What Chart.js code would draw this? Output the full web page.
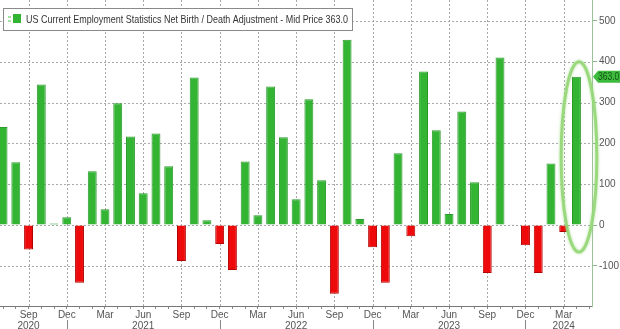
<!DOCTYPE html>
<html>
<head>
<meta charset="utf-8">
<script src="https://cdn.jsdelivr.net/npm/chart.js@4.4.1/dist/chart.umd.min.js"></script>
<style>
  html, body { margin: 0; padding: 0; background: #fff; }
  canvas { display: block; }
</style>
</head>
<body>
<canvas id="birthDeathChart" width="620" height="329"></canvas>
<script>
// monthly net birth/death adjustment, thousands
const months = [
    'Jul 2020', 'Aug 2020', 'Sep 2020', 'Oct 2020', 'Nov 2020', 'Dec 2020',
    'Jan 2021', 'Feb 2021', 'Mar 2021', 'Apr 2021', 'May 2021', 'Jun 2021',
    'Jul 2021', 'Aug 2021', 'Sep 2021', 'Oct 2021', 'Nov 2021', 'Dec 2021',
    'Jan 2022', 'Feb 2022', 'Mar 2022', 'Apr 2022', 'May 2022', 'Jun 2022',
    'Jul 2022', 'Aug 2022', 'Sep 2022', 'Oct 2022', 'Nov 2022', 'Dec 2022',
    'Jan 2023', 'Feb 2023', 'Mar 2023', 'Apr 2023', 'May 2023', 'Jun 2023',
    'Jul 2023', 'Aug 2023', 'Sep 2023', 'Oct 2023', 'Nov 2023', 'Dec 2023',
    'Jan 2024', 'Feb 2024', 'Mar 2024', 'Apr 2024'
];
const netBirthDeath = [
    240, 154, -60, 344, 4, 19,
    -141, 132, 39, 298, 217, 78,
    224, 144, -88, 361, 12, -46,
    -110, 156, 24, 339, 215, 63,
    308, 110, -168, 454, 15, -54,
    -141, 176, -27, 376, 232, 27,
    278, 105, -117, 410, 2, -49,
    -117, 151, -17, 363
];
const yTicks = [-100, 0, 100, 200, 300, 400, 500];
const quarterMonths = ['Mar', 'Jun', 'Sep', 'Dec'];
const yearLabels = { 'Sep 2020': '2020', 'Jun 2021': '2021', 'Jun 2022': '2022', 'Jun 2023': '2023', 'Mar 2024': '2024' };
const lastPrice = 363.0;
const legendText = 'US Current Employment Statistics Net Birth / Death Adjustment - Mid Price 363.0';

const GREEN = '#33b533';
const RED = '#ee0a0a';
const FONT = '"Liberation Sans", Arial, sans-serif';

function isQuarter(i) {
    const m = months[i];
    return !!m && quarterMonths.includes(m.split(' ')[0]);
}

// grid, legend box, last value tag, circled bar, year separators
const extras = {
    id: 'extras',
    afterDatasetsDraw(chart) {
        const { ctx, scales: { x, y }, chartArea } = chart;
        const last = netBirthDeath.length - 1;

        // dotted grid painted behind what is already drawn
        ctx.save();
        ctx.globalCompositeOperation = 'destination-over';
        ctx.strokeStyle = '#a8a8a8';
        ctx.lineWidth = 1;
        ctx.setLineDash([2, 2]);
        months.forEach((m, i) => {
            if (!isQuarter(i)) return;
            const px = Math.round(x.getPixelForValue(i)) + 0.5;
            ctx.beginPath();
            ctx.moveTo(px, chartArea.top);
            ctx.lineTo(px, chartArea.bottom);
            ctx.stroke();
        });
        yTicks.forEach(v => {
            const py = Math.round(y.getPixelForValue(v)) + 0.5;
            ctx.beginPath();
            ctx.moveTo(chartArea.left, py);
            ctx.lineTo(chartArea.right, py);
            ctx.stroke();
        });
        ctx.restore();

        // ellipse round the last bar
        const cx = x.getPixelForValue(last + 0.2);
        const rx = x.getPixelForValue(last + 1.6) - cx;
        const top = y.getPixelForValue(400);
        const bot = y.getPixelForValue(-66);
        ctx.save();
        ctx.strokeStyle = 'rgba(150,215,120,0.9)';
        ctx.lineWidth = 3;
        ctx.shadowColor = 'rgba(150,215,120,0.8)';
        ctx.shadowBlur = 3;
        ctx.beginPath();
        ctx.ellipse(cx, (top + bot) / 2, rx, (bot - top) / 2, 0, 0, Math.PI * 2);
        ctx.stroke();
        ctx.restore();

        // year separators under Dec labels
        ctx.save();
        ctx.strokeStyle = '#888';
        ctx.lineWidth = 1;
        months.forEach((m, i) => {
            if (m.startsWith('Dec')) {
                const px = Math.round(x.getPixelForValue(i)) + 0.5;
                ctx.beginPath();
                ctx.moveTo(px, chartArea.bottom + 14);
                ctx.lineTo(px, chart.height);
                ctx.stroke();
            }
        });
        ctx.restore();

        // last value tag
        const ty = y.getPixelForValue(lastPrice);
        const tx = chartArea.right + 1;
        ctx.save();
        ctx.fillStyle = '#3dbb3d';
        ctx.beginPath();
        ctx.moveTo(tx, ty);
        ctx.lineTo(tx + 5, ty - 6);
        ctx.lineTo(chart.width, ty - 6);
        ctx.lineTo(chart.width, ty + 6);
        ctx.lineTo(tx + 5, ty + 6);
        ctx.closePath();
        ctx.fill();
        ctx.fillStyle = '#155415';
        ctx.font = '10px ' + FONT;
        ctx.textBaseline = 'middle';
        ctx.translate(tx + 5, ty + 0.5);
        ctx.scale(0.85, 1);
        ctx.fillText(lastPrice.toFixed(1), 0, 0);
        ctx.restore();

        // legend
        ctx.save();
        ctx.fillStyle = '#fff';
        ctx.strokeStyle = '#8a8a8a';
        ctx.lineWidth = 1;
        ctx.fillRect(3.5, 8.5, 349, 22);
        ctx.strokeRect(3.5, 8.5, 349, 22);
        ctx.fillStyle = '#a8e0a0';
        ctx.fillRect(8, 16, 3, 2);
        ctx.fillRect(8, 20, 3, 2);
        ctx.fillStyle = GREEN;
        ctx.fillRect(13, 14, 8, 9);
        ctx.fillStyle = '#333';
        ctx.font = '11px ' + FONT;
        ctx.textBaseline = 'middle';
        const w = ctx.measureText(legendText).width;
        ctx.translate(26, 19.5);
        ctx.scale(322 / w, 1);
        ctx.fillText(legendText, 0, 0);
        ctx.restore();
    }
};

new Chart(document.getElementById('birthDeathChart').getContext('2d'), {
    type: 'bar',
    data: {
        datasets: [{
            data: netBirthDeath.map((v, i) => ({ x: i, y: v })),
            backgroundColor: netBirthDeath.map(v => v >= 0 ? GREEN : RED),
            borderColor: netBirthDeath.map(v => v >= 0 ? '#2a9a2a' : '#b30000'),
            borderWidth: 1,
            barPercentage: 0.7,
            categoryPercentage: 1
        }]
    },
    options: {
        responsive: false,
        animation: false,
        devicePixelRatio: 1,
        layout: { padding: 0 },
        plugins: { legend: { display: false }, tooltip: { enabled: false } },
        scales: {
            x: {
                type: 'linear',
                min: -0.24,
                max: 46.22,
                offset: false,
                afterBuildTicks: scale => {
                    scale.ticks = [];
                    for (let i = 0; i <= 46; i++) scale.ticks.push({ value: i });
                },
                afterFit: scale => {
                    scale.height = 23;
                    scale.paddingLeft = 0;
                    scale.paddingRight = 0;
                },
                grid: {
                    offset: false,
                    drawOnChartArea: false,
                    color: '#888',
                    tickLength: 3
                },
                border: { color: '#777' },
                ticks: {
                    autoSkip: false,
                    maxRotation: 0,
                    padding: 1,
                    color: '#555',
                    font: { family: FONT, size: 10, lineHeight: 1.1 },
                    callback: value => {
                        const m = months[value];
                        if (!isQuarter(value)) return '';
                        const mon = m.split(' ')[0];
                        return yearLabels[m] ? [mon, yearLabels[m]] : mon;
                    }
                }
            },
            y: {
                position: 'right',
                min: -198,
                max: 551,
                afterBuildTicks: scale => {
                    scale.ticks = yTicks.map(v => ({ value: v }));
                },
                afterFit: scale => {
                    scale.width = 28;
                    scale.paddingTop = 0;
                    scale.paddingBottom = 0;
                },
                grid: {
                    drawOnChartArea: false,
                    color: '#8db58d',
                    tickLength: 5
                },
                border: { color: '#9cc49c' },
                ticks: {
                    padding: 2,
                    color: '#555',
                    font: { family: FONT, size: 10 }
                }
            }
        }
    },
    plugins: [extras]
});
</script>
</body>
</html>
